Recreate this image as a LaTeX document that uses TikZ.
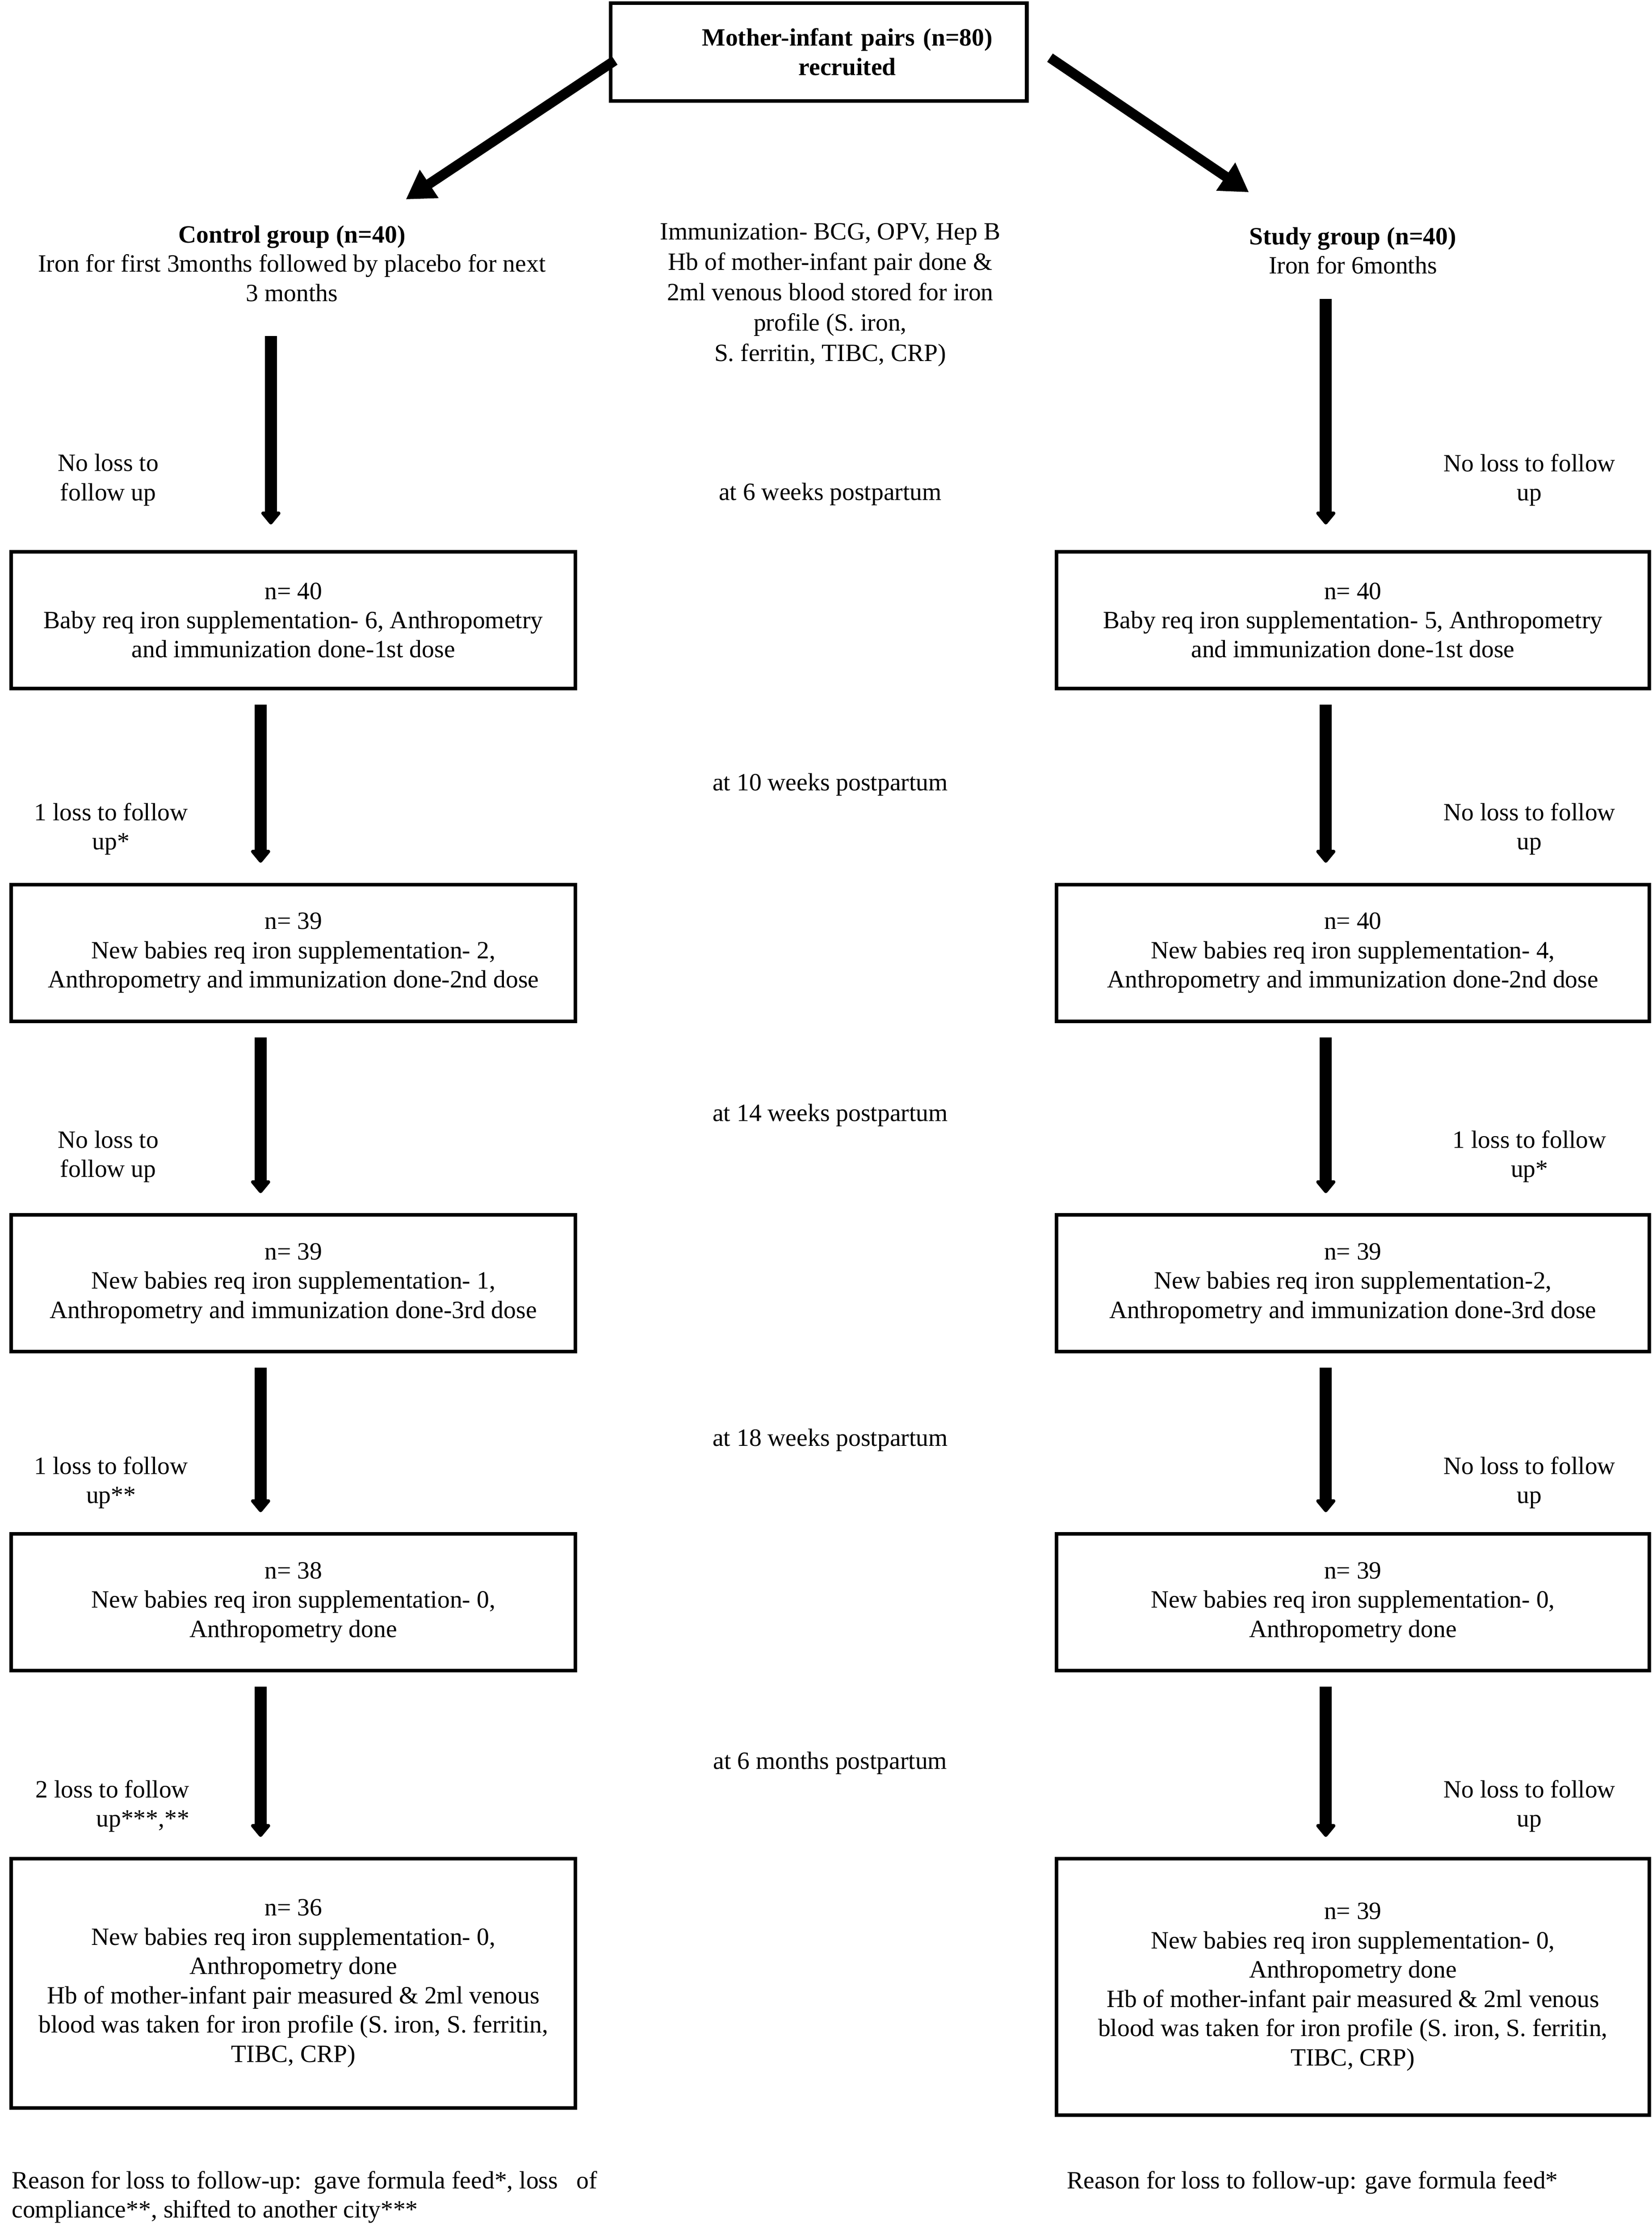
\documentclass[tikz,border=0pt]{standalone}
\usepackage{fontspec}
\setmainfont{Liberation Serif}
\usepackage{tikz}
\usetikzlibrary{arrows.meta, positioning, calc}

\begin{document}
\begin{tikzpicture}[
  x=0.025cm, y=-0.025cm,
  font=\fontsize{12.4}{14.6}\selectfont,
  box/.style={draw, line width=1.8pt, align=center, inner sep=0pt},
  lbox/.style={box, minimum width=9.9cm, minimum height=2.4cm},
  rbox/.style={box, minimum width=10.4cm, minimum height=2.4cm},
  note/.style={align=center, inner sep=0pt},
  flow/.style={line width=6pt, -{Triangle[length=7pt, width=11pt, round]}, shorten <=0.25cm, shorten >=0.35cm},
  split/.style={line width=5pt, -{Triangle[length=14pt, width=16pt]}},
]
\useasboundingbox (0,0) rectangle (1160,1568.5);

\node[box, minimum width=7.3cm, minimum height=1.72cm, text width=6.8cm] (top) at (575,36.5) {\hspace*{1cm}\textbf{Mother-infant pairs (n=80)}\\\hspace*{1cm}\textbf{recruited}};

\node[note] (ctrl) at (205,185) {\textbf{Control group (n=40)}\\Iron for first 3months followed by placebo for next\\3 months};
\node[note] (study) at (950,176) {\textbf{Study group (n=40)}\\Iron for 6months};
\node[note, font=\fontsize{12.4}{15.2}\selectfont] (immu) at (583,207) {Immunization- BCG, OPV, Hep B\\Hb of mother-infant pair done \&\\2ml venous blood stored for iron\\profile (S. iron,\\S. ferritin, TIBC, CRP)};

\node[lbox] (l1) at (206,435.5) {n= 40\\Baby req iron supplementation- 6, Anthropometry\\and immunization done-1st dose};
\node[lbox] (l2) at (206,669) {n= 39\\New babies req iron supplementation- 2,\\Anthropometry and immunization done-2nd dose};
\node[lbox] (l3) at (206,901) {n= 39\\New babies req iron supplementation- 1,\\Anthropometry and immunization done-3rd dose};
\node[lbox] (l4) at (206,1125) {n= 38\\New babies req iron supplementation- 0,\\Anthropometry done};
\node[lbox, minimum height=4.375cm] (l5) at (206,1392.5) {n= 36\\New babies req iron supplementation- 0,\\Anthropometry done\\Hb of mother-infant pair measured \& 2ml venous\\blood was taken for iron profile (S. iron, S. ferritin,\\TIBC, CRP)};

\node[rbox] (r1) at (950,435.5) {n= 40\\Baby req iron supplementation- 5, Anthropometry\\and immunization done-1st dose};
\node[rbox] (r2) at (950,669) {n= 40\\New babies req iron supplementation- 4,\\Anthropometry and immunization done-2nd dose};
\node[rbox] (r3) at (950,901) {n= 39\\New babies req iron supplementation-2,\\Anthropometry and immunization done-3rd dose};
\node[rbox] (r4) at (950,1125) {n= 39\\New babies req iron supplementation- 0,\\Anthropometry done};
\node[rbox, minimum height=4.5cm] (r5) at (950,1395) {n= 39\\New babies req iron supplementation- 0,\\Anthropometry done\\Hb of mother-infant pair measured \& 2ml venous\\blood was taken for iron profile (S. iron, S. ferritin,\\TIBC, CRP)};

\node[note] (t1) at (583,347) {at 6 weeks postpartum};
\node[note] (t2) at (583,551) {at 10 weeks postpartum};
\node[note] (t3) at (583,783) {at 14 weeks postpartum};
\node[note] (t4) at (583,1011) {at 18 weeks postpartum};
\node[note] (t5) at (583,1238) {at 6 months postpartum};

\node[note] (ll1) at (76,337) {No loss to\\follow up};
\node[note] (ll2) at (78,582) {1 loss to follow\\up*};
\node[note] (ll3) at (76,812) {No loss to\\follow up};
\node[note] (ll4) at (78,1041) {1 loss to follow\\up**};
\node[note, align=right] (ll5) at (79,1268) {2 loss to follow\\up***,**};

\node[note] (rl1) at (1074,337) {No loss to follow\\up};
\node[note] (rl2) at (1074,582) {No loss to follow\\up};
\node[note] (rl3) at (1074,812) {1 loss to follow\\up*};
\node[note] (rl4) at (1074,1041) {No loss to follow\\up};
\node[note] (rl5) at (1074,1268) {No loss to follow\\up};

\node[note, align=left, anchor=north west] (lwhy) at (8,1524) {Reason for loss to follow-up:\ \ gave formula feed*, loss\ \ \ of\\compliance**, shifted to another city***};
\node[note, align=left, anchor=north west] (rwhy) at (749,1524) {Reason for loss to follow-up: gave formula feed*};

\coordinate (lx) at (183,0);
\coordinate (rx) at (931,0);
\coordinate (ltip) at (285,140);
\coordinate (rtip) at (877,135);

\draw[split] ($(top.west)+(4,6)$) -- (ltip);
\draw[split] ($(top.east)+(15,4)$) -- (rtip);

\draw[flow, shorten <=0.6cm, shorten >=0.45cm] ([xshift=0.18cm]ctrl.south -| lx) -- ([xshift=0.18cm]l1.north -| lx);
\draw[flow, shorten <=0.43cm, shorten >=0.45cm] (study.south -| rx) -- (r1.north -| rx);
\draw[flow] (l1.south -| lx) -- (l2.north -| lx);
\draw[flow] (l2.south -| lx) -- (l3.north -| lx);
\draw[flow] (l3.south -| lx) -- (l4.north -| lx);
\draw[flow] (l4.south -| lx) -- (l5.north -| lx);
\draw[flow] (r1.south -| rx) -- (r2.north -| rx);
\draw[flow] (r2.south -| rx) -- (r3.north -| rx);
\draw[flow] (r3.south -| rx) -- (r4.north -| rx);
\draw[flow] (r4.south -| rx) -- (r5.north -| rx);
\end{tikzpicture}
\end{document}
